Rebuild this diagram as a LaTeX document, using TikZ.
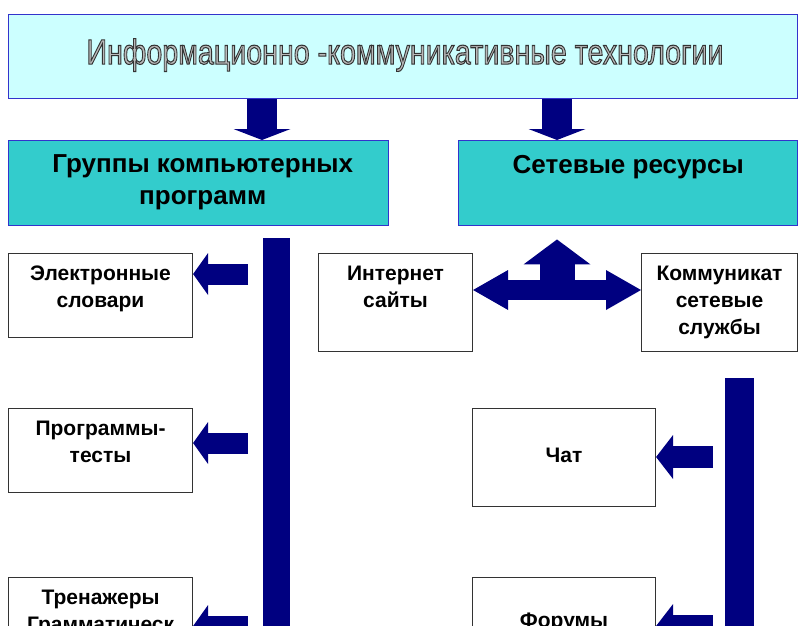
\documentclass[tikz,border=0pt]{standalone}
\usepackage{fontspec}
\setmainfont{Liberation Sans}
\usetikzlibrary{positioning,arrows.meta}
\definecolor{navy}{RGB}{0,0,128}
\definecolor{paleaqua}{RGB}{204,255,255}
\definecolor{teal2}{RGB}{51,204,204}
\definecolor{boxblue}{RGB}{51,51,204}
\definecolor{titlegray}{RGB}{185,185,185}
\newcommand{\outlined}[1]{{\color{titlegray}\special{pdf:literal direct 0.2 0.2 0.2 RG 0.8 w 2 Tr}#1\special{pdf:literal direct 0 Tr}}}
\tikzset{
        hbox/.style={draw=boxblue, line width=1.1pt, anchor=north west, inner sep=0pt}, % blue framed boxes
        wbox/.style={draw=black!80, fill=white, line width=0.8pt, anchor=north west, inner sep=0pt}, % white boxes
        head/.style={font=\bfseries\fontsize{19.5pt}{24pt}\selectfont, align=center, inner sep=0pt},
        txt/.style={font=\bfseries\fontsize{15.75pt}{20.25pt}\selectfont, align=center, inner sep=0pt},
        downarrow/.style={navy, line width=22pt, -{Triangle[length=8.25pt,width=42.75pt,line width=0pt 0]}},
        sidearrow/.style={navy, line width=15.75pt, -{Triangle[length=11.25pt,width=31.5pt,line width=0pt 0]}},
}
\begin{document}
\begin{tikzpicture}[x=0.75pt,y=-0.75pt]
\useasboundingbox (0,0) rectangle (807,625);
\fill[white] (0,0) rectangle (807,625);
\clip (0,0) rectangle (807,625);

% top level
\node[hbox, fill=paleaqua, minimum width=591.75pt, minimum height=63pt] (ikt) at (8,14) {};
\node[font=\fontsize{26.5pt}{30pt}\selectfont, inner sep=0pt] (iktt) at (405,55) {\scalebox{0.81}[1]{\outlined{Информационно -коммуникативные технологии}}};

% second level
\node[hbox, fill=teal2, minimum width=285pt, minimum height=63.75pt] (grp) at (8,140) {};
\node[hbox, fill=teal2, minimum width=254.25pt, minimum height=63.75pt] (set) at (458,140) {};
\node[head, anchor=north] (grpt) at ([xshift=3pt,yshift=-10.5pt]grp.north) {Группы компьютерных\\программ};
\node[head, anchor=north] (sett) at ([yshift=-11pt]set.north) {Сетевые ресурсы};

\draw[downarrow] (262,0 |- ikt.south) -- (262,0 |- grp.north);
\draw[downarrow] (557,0 |- ikt.south) -- (557,0 |- set.north);

% vertical bars
\fill[navy] (263,238) rectangle (290,640) coordinate (lbar);
\fill[navy] (725,378) rectangle (754,640) coordinate (rbar);
\coordinate (lbarw) at (263,238);
\coordinate (rbarw) at (725,378);

% left column
\node[wbox, minimum width=138pt, minimum height=63pt] (e1) at (8,253) {};
\node[wbox, minimum width=138pt, minimum height=63pt] (e2) at (8,408) {};
\node[wbox, minimum width=138pt, minimum height=63pt] (e3) at (8,577) {};
\node[txt, anchor=north] (e1t) at ([yshift=-9.75pt]e1.north) {Электронные\\словари};
\node[txt, anchor=north] (e2t) at ([yshift=-9.75pt]e2.north) {Программы-\\тесты};
\node[txt, anchor=north] (e3t) at ([yshift=-9.75pt]e3.north) {Тренажеры\\Грамматическ};

\draw[sidearrow, shorten <=11.25pt] (lbarw |- 0,274) -- (e1.east |- 0,274);
\draw[sidearrow, shorten <=11.25pt] (lbarw |- 0,443) -- (e2.east |- 0,443);
\draw[sidearrow, shorten <=11.25pt] (lbarw |- 0,626) -- (e3.east |- 0,626);

% right part
\node[wbox, minimum width=115.5pt, minimum height=73.5pt] (inet) at (318,253) {};
\node[wbox, minimum width=117pt, minimum height=73.5pt] (komm) at (641,253) {};
\node[txt, anchor=north] (inett) at ([yshift=-9.75pt]inet.north) {Интернет\\сайты};
\node[txt, anchor=north] (kommt) at ([yshift=-9.75pt]komm.north) {Коммуникат\\сетевые\\службы};

\draw[navy, line width=15pt, {Triangle[length=26.25pt,width=30pt,line width=0pt 0]}-{Triangle[length=26.25pt,width=30pt,line width=0pt 0]}] (inet.east |- 0,290) -- (komm.west |- 0,290);
\draw[navy, line width=26.25pt, -{Triangle[length=18.75pt,width=50.25pt,line width=0pt 0]}, shorten >=9.75pt] (557,296) -- (557,0 |- set.south);

\node[wbox, minimum width=137.25pt, minimum height=73.5pt] (chat) at (472,408) {};
\node[wbox, minimum width=137.25pt, minimum height=73.5pt] (forum) at (472,577) {};
\node[txt] (chatt) at ([yshift=1.5pt]chat.center) {Чат};
\node[txt, anchor=north] (forumt) at ([yshift=-27pt]forum.north) {Форумы};

\draw[sidearrow, line width=16.5pt, -{Triangle[length=12.75pt,width=33pt,line width=0pt 0]}, shorten <=9pt] (rbarw |- 0,457) -- (chat.east |- 0,457);
\draw[sidearrow, line width=16.5pt, -{Triangle[length=12.75pt,width=33pt,line width=0pt 0]}, shorten <=9pt] (rbarw |- 0,626) -- (forum.east |- 0,626);

\end{tikzpicture}
\end{document}
